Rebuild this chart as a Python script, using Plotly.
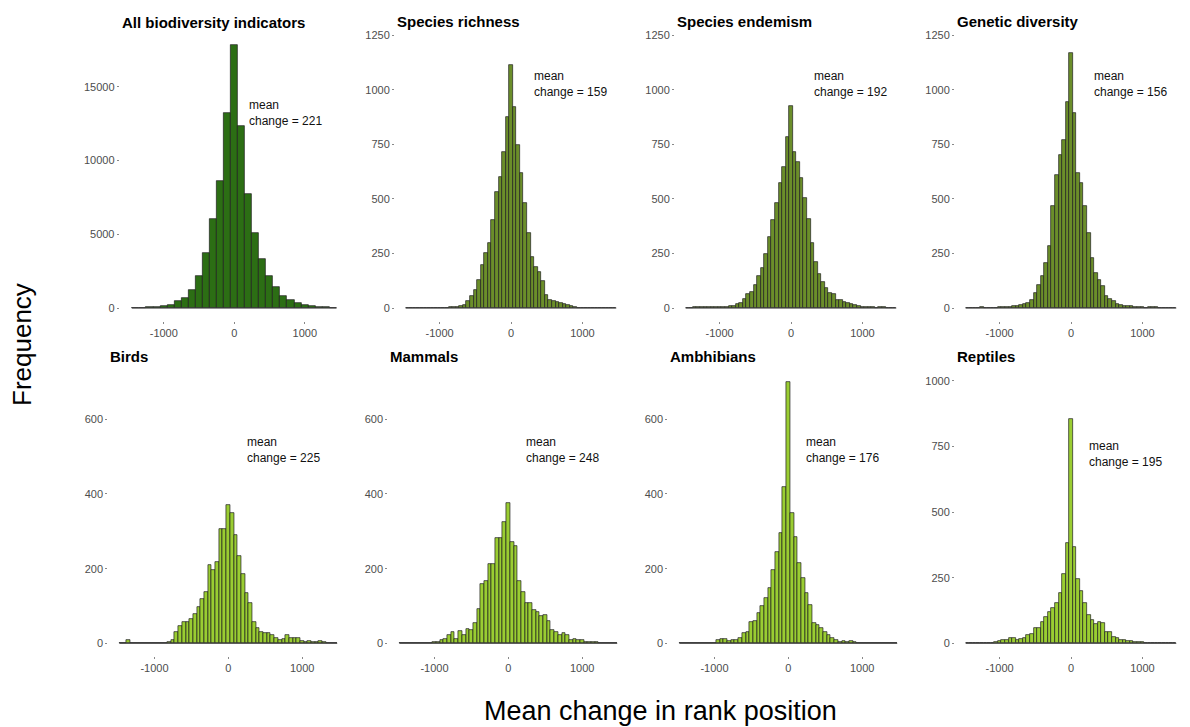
import plotly.graph_objects as go

# ---------------- data ----------------
titles = ["All biodiversity indicators", "Species richness", "Species endemism", "Genetic diversity",
          "Birds", "Mammals", "Ambhibians", "Reptiles"]
mean_change = [221, 159, 192, 156, 225, 248, 176, 195]

centers_100 = list(range(-1400, 1401, 100))
centers_50 = list(range(-1450, 1451, 50))

all_counts = [20, 30, 40, 60, 110, 225, 450, 650, 1190, 2200, 3710, 6010, 8620, 13230, 17820,
              12330, 7760, 5110, 3300, 2140, 1400, 830, 520, 340, 225, 135, 90, 45, 20]

richness_counts = [0, 0, 1, 1, 1, 1, 1, 1, 1, 1, 2, 2, 3, 3, 5, 11, 15, 34, 56, 84, 130, 198, 251, 297,
                   404, 529, 602, 716, 876, 1112, 922, 747, 617, 480, 343, 233, 190, 165, 122, 61, 38,
                   30, 26, 23, 20, 15, 8, 3, 2, 1, 1, 1, 0, 0, 0, 0, 0, 0, 0]

endemism_counts = [1, 2, 3, 5, 6, 5, 3, 4, 3, 3, 4, 5, 8, 11, 17, 23, 41, 66, 73, 104, 145, 183, 247, 323,
                   404, 483, 572, 648, 785, 927, 716, 670, 594, 503, 407, 297, 209, 155, 117, 91, 69,
                   66, 38, 35, 29, 23, 18, 14, 8, 5, 4, 3, 3, 2, 3, 3, 2, 1, 1]

genetic_counts = [1, 1, 2, 2, 3, 2, 2, 2, 2, 3, 3, 4, 5, 8, 11, 14, 20, 23, 38, 69, 104, 145, 206, 282,
                  468, 610, 701, 770, 945, 1166, 892, 620, 572, 469, 343, 229, 160, 126, 99, 53, 43,
                  34, 20, 14, 11, 8, 8, 5, 3, 3, 2, 3, 4, 3, 2, 2, 1, 1, 0]

birds_counts = [0, 0, 8, 0, 0, 0, 0, 1, 2, 2, 1, 0, 0, 3, 9, 31, 46, 58, 58, 65, 78, 98, 119, 138,
                210, 196, 217, 305, 306, 371, 348, 290, 235, 185, 134, 107, 58, 42, 29, 27, 27,
                21, 13, 9, 11, 21, 13, 13, 13, 5, 3, 6, 4, 3, 6, 3, 1, 0, 0]

mammals_counts = [0, 0, 0, 0, 0, 0, 1, 2, 2, 3, 4, 8, 12, 22, 29, 11, 33, 22, 38, 35, 55, 91, 158, 168,
                  212, 212, 281, 283, 326, 375, 271, 262, 168, 137, 109, 107, 88, 85, 74, 76, 60,
                  36, 29, 22, 27, 22, 9, 11, 10, 10, 4, 4, 3, 3, 2, 1, 0, 0, 0]

amphibians_counts = [0, 0, 0, 0, 2, 0, 0, 0, 0, 0, 8, 12, 12, 7, 8, 9, 15, 27, 29, 58, 60, 80, 101, 122,
                     149, 196, 244, 295, 418, 699, 348, 286, 214, 174, 134, 103, 54, 49, 42, 31, 22,
                     13, 8, 4, 6, 4, 7, 3, 1, 1, 1, 1, 1, 0, 0, 0, 0, 0, 0]

reptiles_counts = [0, 0, 0, 0, 0, 0, 0, 1, 4, 10, 11, 13, 22, 19, 13, 17, 19, 32, 34, 57, 57, 83, 102, 121,
                   133, 152, 190, 265, 381, 855, 368, 245, 200, 152, 108, 89, 75, 82, 78, 44, 42,
                   25, 19, 13, 13, 9, 8, 6, 5, 4, 2, 1, 0, 0, 0, 0, 0, 0, 0]

series = [
    (centers_100, all_counts, 100),
    (centers_50, richness_counts, 50),
    (centers_50, endemism_counts, 50),
    (centers_50, genetic_counts, 50),
    (centers_50, birds_counts, 50),
    (centers_50, mammals_counts, 50),
    (centers_50, amphibians_counts, 50),
    (centers_50, reptiles_counts, 50),
]
for c, v, w in series:
    assert len(c) == len(v)

y_ticks = [[0, 5000, 10000, 15000], [0, 250, 500, 750, 1000, 1250], [0, 250, 500, 750, 1000, 1250],
           [0, 250, 500, 750, 1000, 1250], [0, 200, 400, 600], [0, 200, 400, 600], [0, 200, 400, 600],
           [0, 250, 500, 750, 1000]]
x_ticks = [-1000, 0, 1000]
x_tick_labels = ["-1000", "0", "1000"]

# ---------------- layout / styles ----------------
W, H = 1190, 727
fill_colors = ["#2c6e14", "#6b8e2a", "#6b8e2a", "#6b8e2a", "#9acd32", "#9acd32", "#9acd32", "#9acd32"]
x_px = [(119.7, 348.9), (395, 627), (675, 907), (955, 1187),
        (108.3, 348.3), (388.3, 628.3), (668.3, 908.3), (955, 1187)]
x_range = [-1625, 1625]
y_px = [(32, 321)] * 4 + [(369, 656)] * 4
y_ranges = [[-881, 18708], [-59.5, 1264], [-59.5, 1264], [-59.5, 1264],
            [-34, 734.8], [-34, 734.8], [-34, 734.8], [-48.4, 1045.7]]
ann_pos = [(180, 13217), (295, 1026), (295, 1026), (295, 1026),
           (226, 518), (216, 518), (216, 518), (220, 722)]
title_y = [22, 21, 21, 21, 356, 356, 356, 356]

FONT = "Liberation Sans, Arial, sans-serif"
TICK_COLOR = "#4d4d4d"
fig = go.Figure()
annotations = []
layout_axes = {}

for i, ((cx, cy, w), col) in enumerate(zip(series, fill_colors)):
    n = i + 1
    xa = "x" if n == 1 else f"x{n}"
    ya = "y" if n == 1 else f"y{n}"
    fig.add_trace(go.Scatter(x=[cx[0] - w / 2, cx[-1] + w / 2], y=[0, 0], mode="lines",
                             line=dict(color="#3a3a3a", width=1), xaxis=xa, yaxis=ya,
                             showlegend=False, hoverinfo="skip"))
    fig.add_trace(go.Bar(x=cx, y=cy, width=w, marker=dict(color=col, line=dict(color="#1e1e1e", width=0.7)),
                         xaxis=xa, yaxis=ya, showlegend=False))
    l, r = x_px[i]
    t, b = y_px[i]
    axis_common = dict(showgrid=False, zeroline=False, showline=False, ticks="outside", ticklen=2,
                       tickcolor="#888888", tickwidth=1,
                       tickfont=dict(family=FONT, size=11, color=TICK_COLOR))
    layout_axes["xaxis" if n == 1 else f"xaxis{n}"] = dict(
        domain=[l / W, r / W], range=x_range, tickvals=x_ticks, ticktext=x_tick_labels,
        anchor=ya, **axis_common)
    layout_axes["yaxis" if n == 1 else f"yaxis{n}"] = dict(
        domain=[1 - b / H, 1 - t / H], range=y_ranges[i], tickvals=y_ticks[i],
        ticktext=[str(v) for v in y_ticks[i]], anchor=xa, **axis_common)
    annotations.append(dict(x=l / W, y=1 - title_y[i] / H, xref="paper", yref="paper", text=f"<b>{titles[i]}</b>",
                            showarrow=False, xanchor="left", yanchor="middle",
                            font=dict(family=FONT, size=15, color="#000000")))
    ax_, ay_ = ann_pos[i]
    annotations.append(dict(x=ax_, y=ay_, xref=xa, yref=ya, text=f"mean<br>change = {mean_change[i]}",
                            showarrow=False, xanchor="left", yanchor="middle", align="left",
                            font=dict(family=FONT, size=12, color="#111111")))

annotations.append(dict(x=22 / W, y=1 - 345 / H, xref="paper", yref="paper", text="Frequency",
                        textangle=-90, showarrow=False, xanchor="center", yanchor="middle",
                        font=dict(family=FONT, size=26, color="#000000")))
annotations.append(dict(x=660 / W, y=1 - 711 / H, xref="paper", yref="paper", text="Mean change in rank position",
                        showarrow=False, xanchor="center", yanchor="middle",
                        font=dict(family=FONT, size=27, color="#000000")))

fig.update_layout(template="none", width=W, height=H, margin=dict(l=0, r=0, t=0, b=0),
                  paper_bgcolor="white", plot_bgcolor="white", bargap=0,
                  font=dict(family=FONT, color=TICK_COLOR),
                  annotations=annotations, **layout_axes)

fig.write_html("out.html", config={"displayModeBar": False},
               post_script="document.body.style.margin='0';document.body.style.overflow='hidden';")
